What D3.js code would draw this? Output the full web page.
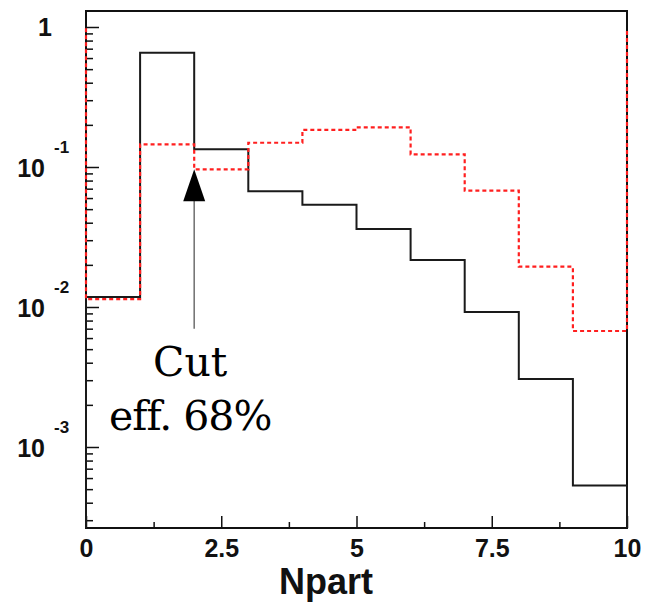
<!DOCTYPE html>
<html>
<head>
<meta charset="utf-8">
<script src="https://cdn.jsdelivr.net/npm/d3@7"></script>
<style>
  html, body { margin: 0; padding: 0; background: #fff; }
  svg { display: block; }
</style>
</head>
<body>
<svg id="chart" width="645" height="605"></svg>
<script>
// Bin edges of the Npart histogram (unit-width bins from 0 to 10)
const binEdges = [0, 1, 2, 3, 4, 5, 6, 7, 8, 9, 10];
// Normalised contents, solid black histogram
const blackValues = [0.0118, 0.655, 0.134, 0.067, 0.0538, 0.036, 0.0217, 0.0092, 0.00306, 0.00053];
// Normalised contents, dashed red histogram
const redValues = [0.0114, 0.145, 0.0963, 0.149, 0.184, 0.192, 0.123, 0.0677, 0.0194, 0.00674];
// Height reached by the red outline at the outer edges
const redEdgeValue = 0.98;

const xTicks = [0, 2.5, 5, 7.5, 10];
const xTickLabels = ["0", "2.5", "5", "7.5", "10"];
const xMinorTicks = [1.25, 3.75, 6.25, 8.75];
const yDecades = [1e-3, 1e-2, 1e-1, 1];
const yDecadeExponents = ["-3", "-2", "-1", "0"];

// Cut annotation
const cutX = 2;
const cutArrowTip = 0.0963;
const cutArrowTail = 0.007;
const cutLines = ["Cut", "eff. 68%"];
const xTitle = "Npart";

const plotLeft = 86, plotRight = 627, plotTop = 11, plotBottom = 528;
const svg = d3.select("#chart");

const x = d3.scaleLinear().domain([0, 10]).range([plotLeft, plotRight]);
const y = d3.scaleLog()
  .domain([Math.pow(10, -3 - 81 / 140), Math.pow(10, 16 / 140)])
  .range([plotBottom, plotTop]);

// Minor decade ticks: 2..9 x 10^n inside the visible range
const yMinor = [];
[-4, -3, -2, -1, 0].forEach(e => {
  for (let k = 2; k <= 9; k++) {
    const v = k * Math.pow(10, e);
    if (v >= y.domain()[0] && v <= y.domain()[1]) yMinor.push(v);
  }
});

// Frame
svg.append("rect")
  .attr("x", plotLeft).attr("y", plotTop)
  .attr("width", plotRight - plotLeft).attr("height", plotBottom - plotTop)
  .attr("fill", "none").attr("stroke", "#111").attr("stroke-width", 2);

// X axis ticks (inward)
const gx = svg.append("g").attr("transform", `translate(0,${plotBottom})`);
gx.call(d3.axisBottom(x).tickValues(xTicks).tickSizeInner(-12).tickSizeOuter(0)
  .tickPadding(11).tickFormat((d, i) => xTickLabels[i]));
const gxm = svg.append("g").attr("transform", `translate(0,${plotBottom})`);
gxm.call(d3.axisBottom(x).tickValues(xMinorTicks).tickSizeInner(-6).tickSizeOuter(0).tickFormat(""));
[gx, gxm].forEach(g => {
  g.select(".domain").remove();
  g.selectAll(".tick line").attr("stroke", "#111").attr("stroke-width", 1.5);
});
gx.selectAll(".tick text")
  .attr("font-family", "'Liberation Sans', Arial, sans-serif")
  .attr("font-weight", "bold").attr("font-size", 25).attr("fill", "#111");

// Y axis ticks (inward)
const gy = svg.append("g").attr("transform", `translate(${plotLeft},0)`);
gy.call(d3.axisLeft(y).tickValues(yDecades).tickSizeInner(-13).tickSizeOuter(0).tickFormat(""));
const gym = svg.append("g").attr("transform", `translate(${plotLeft},0)`);
gym.call(d3.axisLeft(y).tickValues(yMinor).tickSizeInner(-7).tickSizeOuter(0).tickFormat(""));
[gy, gym].forEach(g => {
  g.select(".domain").remove();
  g.selectAll(".tick line").attr("stroke", "#111").attr("stroke-width", 1.5);
});

// Y tick labels: "1" and 10^n
const yLab = svg.append("g")
  .attr("font-family", "'Liberation Sans', Arial, sans-serif")
  .attr("font-weight", "bold").attr("fill", "#111");
yDecades.forEach((v, i) => {
  const yy = y(v);
  if (v === 1) {
    yLab.append("text").attr("x", 52).attr("y", yy + 9)
      .attr("text-anchor", "end").attr("font-size", 25).text("1");
  } else {
    yLab.append("text").attr("x", 45).attr("y", yy + 10)
      .attr("text-anchor", "end").attr("font-size", 25).text("10");
    yLab.append("text").attr("x", 54).attr("y", yy - 14)
      .attr("text-anchor", "start").attr("font-size", 17).text(yDecadeExponents[i]);
  }
});

// Step outline of a histogram
function stepPath(values, startVal, endVal) {
  const pts = [[x(binEdges[0]), y(startVal)]];
  values.forEach((v, i) => {
    pts.push([x(binEdges[i]), y(v)]);
    pts.push([x(binEdges[i + 1]), y(v)]);
  });
  pts.push([x(binEdges[binEdges.length - 1]), y(endVal)]);
  return d3.line()(pts);
}

const yMin = y.domain()[0];
svg.append("path")
  .attr("d", stepPath(blackValues, yMin, yMin))
  .attr("fill", "none").attr("stroke", "#1a1a1a").attr("stroke-width", 2);

svg.append("path")
  .attr("d", stepPath(redValues, redEdgeValue, redEdgeValue))
  .attr("fill", "none").attr("stroke", "#ff1f1f").attr("stroke-width", 2.2)
  .attr("stroke-dasharray", "4,3");

// Cut arrow
const ax = x(cutX), tipY = y(cutArrowTip), tailY = y(cutArrowTail);
const headLen = 32, headHalf = 11;
svg.append("line")
  .attr("x1", ax).attr("x2", ax).attr("y1", tipY + headLen - 2).attr("y2", tailY)
  .attr("stroke", "#777").attr("stroke-width", 1.6);
svg.append("path")
  .attr("d", d3.line()([[ax, tipY], [ax - headHalf, tipY + headLen], [ax + headHalf, tipY + headLen]]) + "Z")
  .attr("fill", "#000");

const note = svg.append("g")
  .attr("font-family", "'DejaVu Serif', serif").attr("font-size", 41)
  .attr("fill", "#000").attr("text-anchor", "middle");
note.append("text").attr("x", ax - 4).attr("y", 376).text(cutLines[0]);
note.append("text").attr("x", ax - 4).attr("y", 430)
  .attr("letter-spacing", -1).text(cutLines[1]);

// X axis title
svg.append("text")
  .attr("x", 326).attr("y", 594)
  .attr("text-anchor", "middle")
  .attr("font-family", "'Liberation Sans', Arial, sans-serif")
  .attr("font-weight", "bold").attr("font-size", 36).attr("fill", "#111")
  .text(xTitle);
</script>
</body>
</html>
